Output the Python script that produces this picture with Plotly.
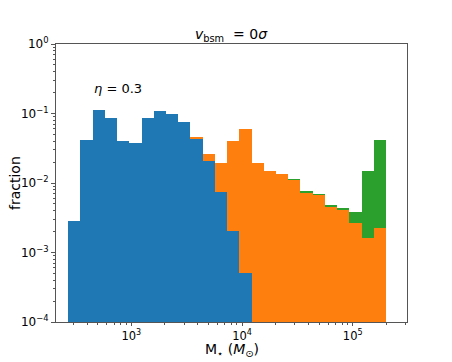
import numpy as np
import plotly.graph_objects as go

# ===== histogram data (fraction per log bin) =====
bin_lo, bin_hi, n_bins = 10**2.43, 10**5.30, 26

blue = [0.00284, 0.0416, 0.111, 0.0853, 0.0402, 0.038, 0.0853, 0.110, 0.0973, 0.0762,
        0.043, 0.021, 0.0075, 0.00204, 0.0005, 0, 0, 0, 0, 0,
        0, 0, 0, 0, 0, 0]
orange = [0, 0, 0, 0, 0, 0, 0, 0, 0, 0,
          0.0034, 0.0048, 0.0117, 0.0382, 0.0587, 0.0196, 0.0150, 0.01345, 0.0112, 0.0074,
          0.00672, 0.00447, 0.00409, 0.00263, 0.00163, 0.00223]
green = [0, 0, 0, 0, 0, 0, 0, 0, 0, 0,
         0, 0, 0, 0, 0, 0, 0, 0, 0.0002, 0.00015,
         0.00015, 0.0004, 0.00018, 0.0012, 0.0133, 0.0394]

series = [('blue', blue, '#1f77b4'), ('orange', orange, '#ff7f0e'), ('green', green, '#2ca02c')]

# bin edges in log10 space (x axis is drawn in log10 units)
edges = np.linspace(np.log10(bin_lo), np.log10(bin_hi), n_bins + 1)
centers = (edges[:-1] + edges[1:]) / 2
widths = np.diff(edges)

font = 'DejaVu Sans'
fig = go.Figure()
for name, vals, col in series:
    fig.add_trace(go.Bar(
        x=centers, y=vals, width=widths, name=name,
        marker=dict(color=col, line=dict(width=0)),
        showlegend=False))

x_minor = [np.log10(k * 10**n) for n in range(2, 6) for k in range(2, 10)]
x_minor = [v for v in x_minor if 2.32 <= v <= 5.49]
y_minor = [k * 10.0**n for n in range(-4, 0) for k in range(2, 10)]

# page body adds an 8px offset, so margins are shifted to compensate
fig.update_layout(
    width=452, height=362,
    margin=dict(l=48, r=53, t=36, b=48),
    paper_bgcolor='white', plot_bgcolor='white',
    barmode='stack', bargap=0,
    font=dict(family=font, size=12, color='black'),
    xaxis=dict(
        range=[2.32, 5.49], showgrid=False, zeroline=False, automargin=False,
        showline=True, linecolor='#555', linewidth=1, mirror=True,
        ticks='outside', ticklen=3, tickcolor='#555', tickfont=dict(size=11.5),
        tickvals=[3, 4, 5], ticktext=['10<sup>3</sup>', '10<sup>4</sup>', '10<sup>5</sup>'],
        minor=dict(tickvals=x_minor, ticks='outside', ticklen=2, tickcolor='#555')),
    yaxis=dict(
        type='log', range=[-4, 0], showgrid=False, zeroline=False, automargin=False,
        showline=True, linecolor='#555', linewidth=1, mirror=True,
        ticks='outside', ticklen=4, tickcolor='#555',
        tickvals=[1e-4, 1e-3, 1e-2, 1e-1, 1],
        ticktext=['10<sup>−4</sup>', '10<sup>−3</sup>', '10<sup>−2</sup>', '10<sup>−1</sup>', '10<sup>0</sup>'],
        minor=dict(tickvals=y_minor, ticks='outside', ticklen=2, tickcolor='#555')),
    annotations=[
        dict(text='<i>v</i><sub>bsm</sub>  = 0<i>σ</i>', xref='paper', yref='paper',
             x=0.5, y=1, xanchor='center', yanchor='bottom', yshift=-2,
             showarrow=False, font=dict(size=14)),
        dict(text='M<sub>⋆</sub> (<i>M</i><sub>⊙</sub>)', xref='paper', yref='paper',
             x=0.5, y=0, xanchor='center', yanchor='middle', yshift=-28,
             showarrow=False, font=dict(size=14)),
        dict(text='fraction', xref='paper', yref='paper', textangle=-90,
             x=0, y=0.5, xanchor='center', yanchor='middle', xshift=-41,
             showarrow=False, font=dict(size=14)),
        dict(text='<i>η</i> = 0.3', xref='x', yref='y', x=np.log10(1000) - 0.12, y=np.log10(0.23),
             xanchor='center', yanchor='middle', showarrow=False, font=dict(size=13)),
    ])

fig.write_html('out.html')
